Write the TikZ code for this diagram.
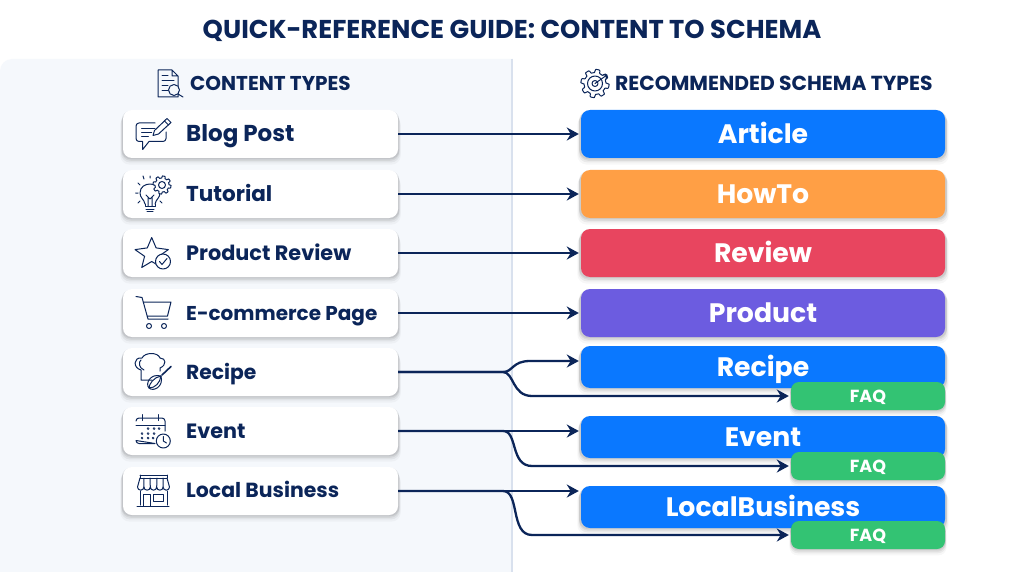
\documentclass[tikz,border=0pt]{standalone}
\usepackage{fontspec}
\setmainfont{Poppins}
\usetikzlibrary{arrows.meta,shadows}
\definecolor{navy}{HTML}{0B2559}
\definecolor{panel}{HTML}{F5F8FC}
\definecolor{divider}{HTML}{D9E1EE}
\definecolor{schemablue}{HTML}{0A78FF}
\definecolor{schemaorange}{HTML}{FF9F45}
\definecolor{schemared}{HTML}{E8455F}
\definecolor{schemapurple}{HTML}{6C5CE0}
\definecolor{schemagreen}{HTML}{33C373}
% gear outline: centre x, centre y, radius
\newcommand{\geartrace}[3]{\draw[icon,fill=white] plot[domain=0:360,samples=121,shift={(#1,#2)}] (\x:{#3*(1+0.13*max(-1,min(1,3*sin(8*\x))))}) -- cycle;}
\tikzset{
  soft/.style={
    drop shadow={shadow xshift=0pt,shadow yshift=-1pt,shadow scale=1.01,opacity=.07,fill=black},
    drop shadow={shadow xshift=0pt,shadow yshift=-2.5pt,shadow scale=1.01,opacity=.06,fill=black},
    drop shadow={shadow xshift=0pt,shadow yshift=-4pt,shadow scale=1.015,opacity=.05,fill=black},
    drop shadow={shadow xshift=0pt,shadow yshift=-6pt,shadow scale=1.02,opacity=.03,fill=black}},
  leftbox/.style={soft,draw=none,fill=white,rounded corners=9pt,minimum width=275pt,minimum height=48pt,inner sep=0pt},
  leftlabel/.style={anchor=west,inner sep=0pt,text height=14pt,text depth=0pt,font=\bfseries\fontsize{#1}{20}\selectfont,text=navy},
  schemabox/.style={soft,fill=#1,rounded corners=9pt,minimum width=364pt,minimum height=48pt,inner sep=0pt,text height=18.5pt,text depth=0pt,text=white,font=\bfseries\fontsize{26.7}{26}\selectfont},
  shortbox/.style={schemabox=schemablue,minimum height=42pt},
  faqbox/.style={soft,fill=schemagreen,rounded corners=8pt,minimum width=154pt,minimum height=28pt,inner sep=0pt,text height=12pt,text depth=0pt,text=white,font=\bfseries\fontsize{17.5}{17}\selectfont},
  heading/.style={inner sep=0pt,anchor=west,text height=14.5pt,text depth=0pt,font=\bfseries\fontsize{#1}{20}\selectfont,text=navy},
  link/.style={draw=navy,line width=2.3pt,-{Stealth[length=12pt,width=13pt]},shorten >=2pt},
  icon/.style={draw=navy,line width=1pt,line join=round,line cap=round}
}
\begin{document}
\begin{tikzpicture}[x=1pt,y=-1pt]
\useasboundingbox (0,0) rectangle (1024,572);
\fill[white] (0,0) rectangle (1024,572);

% panels
\fill[panel,rounded corners=12pt] (0,590) -- (0,59) -- (530,59) -- (530,590) -- cycle;
\fill[white] (513,50) rectangle (540,572);
\fill[white] (0,572) rectangle (540,595);
\draw[divider,line width=2pt] (512,59) -- (512,572);

\node[inner sep=0pt,text height=18pt,text depth=0pt,font=\bfseries\fontsize{25.8}{26}\selectfont,text=navy] (title) at (512,30) {QUICK-REFERENCE GUIDE: CONTENT TO SCHEMA};
\node[heading=20] (headleft) at (190,83) {CONTENT TYPES};
\node[heading=20.3] (headright) at (615,83) {RECOMMENDED SCHEMA TYPES};

% content types
\node[leftbox] (lblog) at (260.5,134) {};
\node[leftbox] (ltut) at (260.5,194) {};
\node[leftbox] (lrev) at (260.5,253) {};
\node[leftbox] (lshop) at (260.5,313) {};
\node[leftbox] (lrecipe) at (260.5,372) {};
\node[leftbox] (levent) at (260.5,431) {};
\node[leftbox] (llocal) at (260.5,491) {};

\node[leftlabel=23,text height=16pt] (tblog) at (186,134) {Blog Post};
\node[leftlabel=21.5,text height=15pt] (ttut) at (186,194) {Tutorial};
\node[leftlabel=20.8] (trev) at (186,253) {Product Review};
\node[leftlabel=20] (tshop) at (186,313) {E-commerce Page};
\node[leftlabel=20.3] (trecipe) at (186,372) {Recipe};
\node[leftlabel=20.7] (tevent) at (186,431) {Event};
\node[leftlabel=20.4] (tlocal) at (186,490) {Local Business};

% schema types
\node[schemabox=schemablue] (rarticle) at (763,134) {Article};
\node[schemabox=schemaorange] (rhowto) at (763,194) {HowTo};
\node[schemabox=schemared] (rreview) at (763,253) {Review};
\node[schemabox=schemapurple] (rproduct) at (763,313) {Product};
\node[shortbox] (rrecipe) at (763,367) {Recipe};
\node[shortbox] (revent) at (763,437) {Event};
\node[shortbox] (rlocal) at (763,507) {LocalBusiness};
\node[faqbox] (faqone) at (868,396) {FAQ};
\node[faqbox] (faqtwo) at (868,466) {FAQ};
\node[faqbox] (faqthree) at (868,535) {FAQ};

% connectors
\draw[link] (lblog.east) -- (rarticle.west);
\draw[link] (ltut.east) -- (rhowto.west);
\draw[link] (lrev.east) -- (rreview.west);
\draw[link] (lshop.east) -- (rproduct.west);

\draw[link] (lrecipe.east) -- (503,372) .. controls (513,372) and (512,361) .. (530,361) -- ([yshift=6pt]rrecipe.west);
\draw[link] (lrecipe.east) -- (503,372) .. controls (514,372) and (512,396) .. (532,396) -- (faqone.west);
\draw[link] (levent.east) -- ([yshift=6pt]revent.west);
\draw[link] (levent.east) -- (503,431) .. controls (518,431) and (510,466) .. (532,466) -- (faqtwo.west);
\draw[link] (llocal.east) -- ([yshift=16pt]rlocal.west);
\draw[link] (llocal.east) -- (503,491) .. controls (520,491) and (510,535) .. (532,535) -- (faqthree.west);

% document with magnifier
\draw[icon] (172,70) -- (158,70) -- (158,97) -- (178,97) -- (178,76) -- (172,70) -- (172,76) -- (178,76);
\draw[icon] (162,76) -- (168,76) (162,81) -- (174,81) (162,86) -- (168,86) (162,91) -- (168,91);
\draw[icon,fill=panel] (174,90) circle (5.5);
\draw[icon] (178,94) -- (183,97);

% target gear
\geartrace{595}{83.5}{12.5}
\draw[icon] (595,83.5) circle (7.5);
\draw[icon] (595,83.5) circle (3);
\draw[icon] (595,83.5) -- (607,75) (603,75) -- (607,75) -- (606,79);

% blog post
\draw[icon] (155,123) -- (139,123) arc[start angle=-90,end angle=-180,radius=3] -- (136,138.5) arc[start angle=180,end angle=90,radius=3] -- (142.7,141.5) -- (142.7,149.5) -- (149,141.5) -- (163,141.5) arc[start angle=90,end angle=0,radius=3] -- (166,132);
\draw[icon] (141.7,128.3) -- (155,128.3) (141.7,132.7) -- (151.7,132.7) (141.7,137) -- (148.3,137);
\draw[icon,fill=white] (153,135.5) -- (154.5,130.5) -- (167,118.5) -- (171,122.5) -- (158.5,134) -- cycle;
\draw[icon] (164.5,121) -- (168.5,125);

% tutorial
\draw[icon] (146,209) -- (154,209) (147,211.5) -- (153,211.5) (145,204) -- (145,206.5) -- (155,206.5) -- (155,204);
\draw[icon] (145,204) .. controls (144,199) and (140,198) .. (140,193) .. controls (140,181) and (160,181) .. (160,193) .. controls (160,198) and (156,199) .. (155,204);
\draw[icon] (148,206) -- (148,197) (152,206) -- (152,197) (146,195) -- (148,197) -- (150,199) -- (152,197) -- (154,195);
\draw[icon] (135.5,193) -- (138,193) (138,183) -- (140,185) (143,176) -- (144,179) (150,176) -- (150,178) (138,203) -- (140,201) (162,203) -- (160,201);
\geartrace{162}{185}{8}
\draw[icon] (162,185) circle (3.5);

% product review
\draw[icon] (151.7,237.5) -- (156.1,247.9) -- (168.3,249.6) -- (158.8,256.3) -- (162,267.5) -- (151.7,261.5) -- (141.7,267.5) -- (144.6,256.3) -- (135,249.6) -- (147.3,247.9) -- cycle;
\draw[icon,fill=white] (163,261.5) circle (7.5);
\draw[icon] (159.5,261.5) -- (162,264.5) -- (167,258.5);

% shopping cart
\draw[icon] (136,296.5) -- (142,297.5) -- (148,319) -- (168,319);
\draw[icon] (143.5,302) -- (171,302) -- (167.5,316) -- (147,316);
\draw[icon] (149,326) circle (2.5);
\draw[icon] (164,326) circle (2.5);

% chef hat and whisk
\draw[icon] (152,380) -- (141,380) -- (141,370) .. controls (133,368) and (133,357) .. (142,358) .. controls (145,352) and (158,352) .. (160,358) .. controls (166,358) and (167,365) .. (160,368) -- (160,371);
\draw[icon] (144,370) .. controls (139,368) and (138,362) .. (141,360);
\draw[icon,line width=1.6pt] (171,366.5) -- (162,375);
\draw[icon] (161,376) .. controls (150,373) and (145,384) .. (149,388) .. controls (153,392) and (164,387) .. (161,376);
\draw[icon] (161,376) .. controls (154,377) and (149,384) .. (149,388) .. controls (155,388) and (160,383) .. (161,376);

% calendar
\draw[icon] (136,421) arc[start angle=180,end angle=270,radius=3] -- (162,418) arc[start angle=270,end angle=360,radius=3] -- (165,431) (155,443.5) -- (139,443.5) arc[start angle=90,end angle=180,radius=3] -- cycle;
\draw[icon] (136,425.5) -- (165,425.5);
\draw[icon] (142.7,414.5) -- (142.7,420.5) (158.3,414.5) -- (158.3,420.5);
\draw[icon,line width=.7pt] (148,428.5) circle (1) (154,428.5) circle (1) (159,428.5) circle (1) (142,433.5) circle (1) (148,433.5) circle (1) (154,433.5) circle (1) (142,438) circle (1) (148,438) circle (1) (153,438) circle (1);
\draw[icon,fill=white] (163.3,441) circle (7);
\draw[icon] (163.3,436.5) -- (163.3,441) -- (166.5,443);

% local business
\draw[icon] (140,475) -- (167,475) (140,478) -- (167,478) (140,475) -- (140,478) (167,475) -- (167,478);
\draw[icon] (140,478) -- (137.5,487) arc[start angle=180,end angle=0,radius=3.2] arc[start angle=180,end angle=0,radius=3.2] arc[start angle=180,end angle=0,radius=3.2] arc[start angle=180,end angle=0,radius=3.2] arc[start angle=180,end angle=0,radius=3.2] -- (167,478);
\draw[icon] (144,478) -- (143.9,487) (150,478) -- (150.3,487) (157,478) -- (156.7,487) (163,478) -- (163.1,487);
\draw[icon] (140,491) -- (140,505) (167,491) -- (167,505) (137,506) -- (169,506);
\draw[icon] (143.5,506) -- (143.5,494) -- (150,494) -- (150,506);
\draw[icon] (153,494) -- (163.5,494) -- (163.5,501) -- (153,501) -- cycle;
\end{tikzpicture}
\end{document}
